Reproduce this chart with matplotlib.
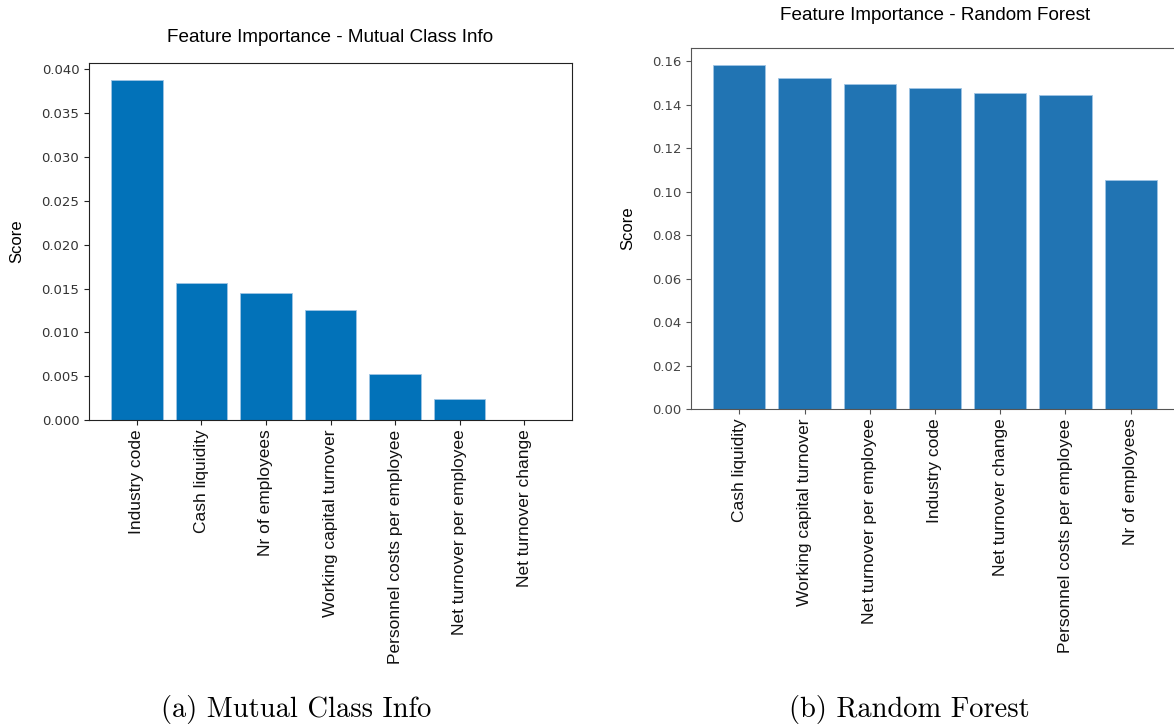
import matplotlib
matplotlib.use("Agg")
import matplotlib.pyplot as plt

# mutual information scores
mi_features = ["Industry code", "Cash liquidity", "Nr of employees",
               "Working capital turnover", "Personnel costs per employee",
               "Net turnover per employee", "Net turnover change"]
mi_scores = [0.0388, 0.01565, 0.01452, 0.01256, 0.00526, 0.00240, 0.0]

# random forest importances
rf_features = ["Cash liquidity", "Working capital turnover",
               "Net turnover per employee", "Industry code",
               "Net turnover change", "Personnel costs per employee",
               "Nr of employees"]
rf_scores = [0.1581, 0.1521, 0.1494, 0.1476, 0.1453, 0.1444, 0.1055]

W, H = 1174, 724
fig = plt.figure(figsize=(W / 100, H / 100), dpi=100)


def px_axes(x0, y0, x1, y1):
    # axes rectangle given in pixels from the top-left corner
    return fig.add_axes([x0 / W, 1 - y1 / H, (x1 - x0) / W, (y1 - y0) / H])


def draw(ax, names, vals, color, title, spine_col, tick_col, pad):
    pos = range(len(vals))
    ax.bar(pos, vals, width=0.8, color=color, edgecolor="#9fc4e4", linewidth=0.6)
    ax.set_xticks(list(pos))
    ax.set_xticklabels(names, rotation=90, fontsize=12.5, family="Liberation Sans",
                       color="#111111")
    ax.tick_params(axis="y", labelsize=9.5, color=spine_col, labelcolor=tick_col)
    ax.tick_params(axis="x", color=spine_col)
    for s in ax.spines.values():
        s.set_color(spine_col)
    ax.set_ylabel("Score", fontsize=12, family="Liberation Sans", labelpad=12)
    ax.set_title(title, fontsize=13.6, family="Liberation Sans", pad=pad)


ax1 = px_axes(89, 63, 572, 420)
draw(ax1, mi_features, mi_scores, "#0272b9", "Feature Importance - Mutual Class Info",
     "#222222", "#333333", 15)
ax1.set_yticks([0.0, 0.005, 0.010, 0.015, 0.020, 0.025, 0.030, 0.035, 0.040])
ax1.set_yticklabels(["%.3f" % v for v in ax1.get_yticks()])

ax2 = px_axes(691, 48, 1179, 409)
draw(ax2, rf_features, rf_scores, "#2174b3", "Feature Importance - Random Forest",
     "#555555", "#444444", 20)
ax2.set_yticks([0.0, 0.02, 0.04, 0.06, 0.08, 0.10, 0.12, 0.14, 0.16])
ax2.set_yticklabels(["%.2f" % v for v in ax2.get_yticks()])

# sub-figure captions
fig.text(296 / W, 1 - 717 / H, "(a) Mutual Class Info", family="cmr10",
         fontsize=20.5, ha="center", va="baseline")
fig.text(909 / W, 1 - 717 / H, "(b) Random Forest", family="cmr10",
         fontsize=20.5, ha="center", va="baseline")

fig.savefig("out.png", dpi=100)
